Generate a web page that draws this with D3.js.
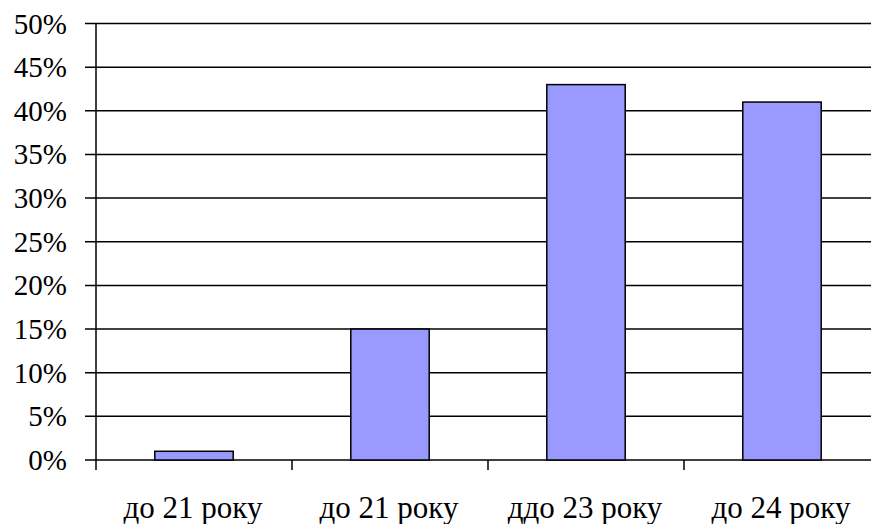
<!DOCTYPE html>
<html><head><meta charset="utf-8">
<script src="https://cdn.jsdelivr.net/npm/d3@7"></script>
<style>body{margin:0;background:#fff}svg{display:block}</style>
</head><body>
<svg id="c" width="871" height="524"></svg>
<script>
const categories = ["до 21 року", "до 21 року", "ддо 23 року", "до 24 року"];
const values = [1, 15, 43, 41];
const yTicks = [0, 5, 10, 15, 20, 25, 30, 35, 40, 45, 50];

(function () {
const svg = d3.select("#c");
const mLeft = 96, mRight = 880, mTop = 23.5, mBottom = 460;
const x = d3.scaleBand().domain(d3.range(categories.length)).range([mLeft, mRight]).paddingInner(0.6).paddingOuter(0.3);
const y = d3.scaleLinear().domain([0, 50]).range([mBottom, mTop]);
const fam = '"Liberation Serif"';

// gridlines
svg.append("g").selectAll("line").data(yTicks).join("line")
  .attr("x1", mLeft - 11).attr("x2", 871)
  .attr("y1", d => y(d)).attr("y2", d => y(d))
  .attr("stroke", "#000").attr("stroke-width", 1.5);

// y labels
svg.append("g").selectAll("text").data(yTicks).join("text")
  .attr("x", 67).attr("y", d => y(d) + 10)
  .attr("text-anchor", "end").style("font-family", fam).style("font-size", "29px")
  .text(d => d + "%");

// bars
svg.append("g").selectAll("rect").data(values).join("rect")
  .attr("x", (d, i) => x(i)).attr("width", x.bandwidth())
  .attr("y", d => y(d)).attr("height", d => y(0) - y(d))
  .attr("fill", "#9999FF").attr("stroke", "#000").attr("stroke-width", 1.5);

// axes lines
svg.append("line").attr("x1", mLeft).attr("x2", mLeft).attr("y1", mTop).attr("y2", mBottom + 10)
  .attr("stroke", "#000").attr("stroke-width", 1.5);
const step = x.step();
const catTicks = d3.range(categories.length).map(i => mLeft + i * step);
svg.append("g").selectAll("line").data(catTicks.slice(1)).join("line")
  .attr("x1", d => d).attr("x2", d => d).attr("y1", mBottom).attr("y2", mBottom + 10)
  .attr("stroke", "#000").attr("stroke-width", 1.5);

// category labels
svg.append("g").selectAll("text").data(categories).join("text")
  .attr("x", (d, i) => mLeft + (i + 0.5) * step - 1).attr("y", 518)
  .attr("text-anchor", "middle").style("font-family", fam).style("font-size", "31px")
  .text(d => d);
})();
</script>
</body></html>
